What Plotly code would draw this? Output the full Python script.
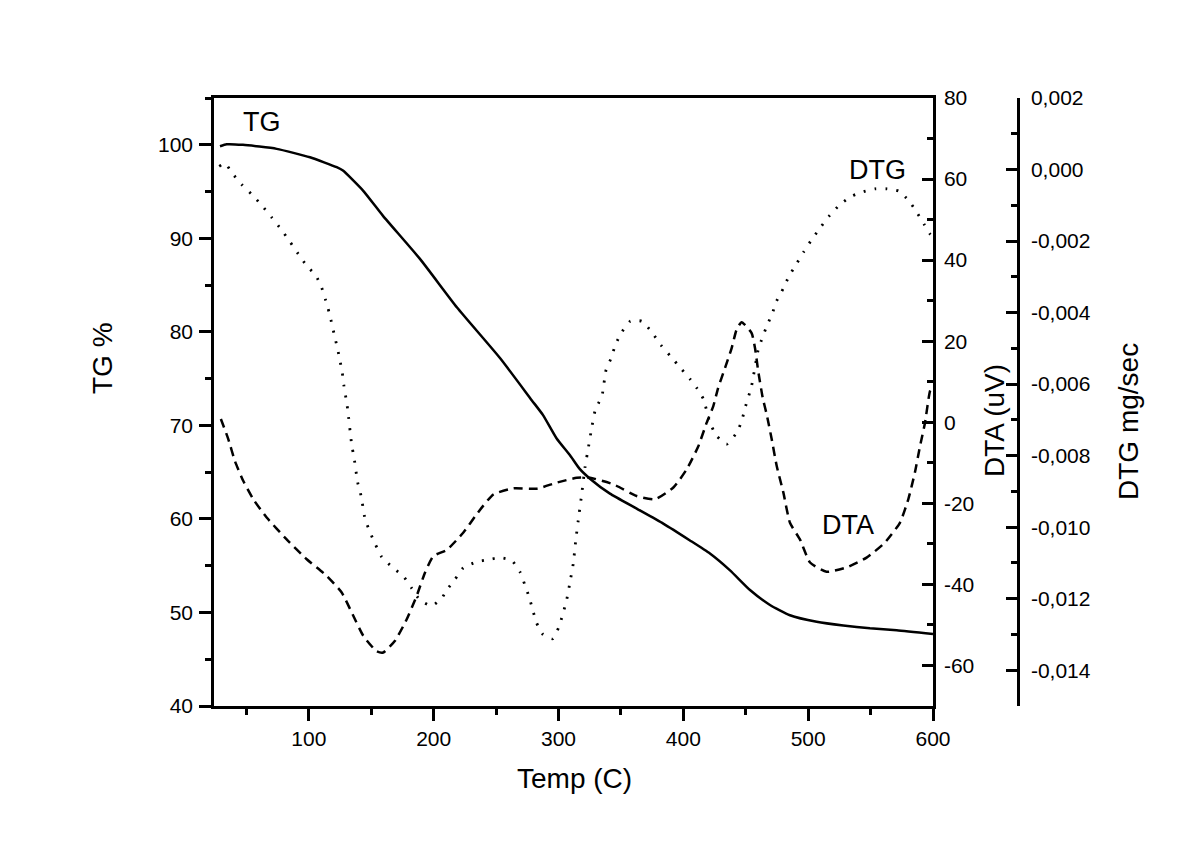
import plotly.graph_objects as go

# ---------------- data ----------------
temp_tg = [28.8, 34.2, 47.2, 74.2, 100.9, 122.3, 127.3, 143.4, 159.4, 189.0, 218.7,
           253.1, 278.5, 287.6, 298.5, 309.2, 316.6, 325.2, 341.2, 362.6, 383.9,
           405.3, 421.3, 437.4, 453.4, 469.4, 485.4, 506.8, 528.1, 549.5, 570.9, 600.0]
tg = [99.84, 100.05, 99.99, 99.56, 98.66, 97.6, 97.24, 95.1, 92.4, 87.8, 82.6,
      77.2, 72.7, 71.1, 68.6, 66.8, 65.4, 64.3, 62.7, 61.1, 59.5,
      57.7, 56.3, 54.5, 52.4, 50.8, 49.7, 49.0, 48.6, 48.3, 48.1, 47.7]

temp_dta = [29.5, 35.5, 40.8, 47.5, 55.5, 66.2, 82.2, 98.3, 114.3, 126.3, 134.3, 143.6,
            154.3, 159.6, 169.0, 178.4, 186.4, 193.0, 199.7, 210.4, 223.8, 234.4, 247.8,
            263.8, 282.5, 298.5, 314.6, 325.2, 343.9, 362.6, 377.3, 392.0, 402.7, 412.0,
            418.7, 424.0, 427.9, 433.4, 438.7, 442.7, 446.7, 454.7, 457.4, 460.0, 463.6,
            466.8, 470.8, 474.8, 480.1, 485.4, 493.4, 501.5, 514.7, 530.8, 546.8, 561.4,
            573.5, 580.2, 585.5, 589.6, 593.6, 597.6, 600.0]
dta = [0.8, -4.2, -9.6, -14.5, -19.0, -23.5, -28.9, -33.8, -37.9, -42.0, -46.9, -52.7,
       -56.5, -56.8, -53.9, -48.6, -42.8, -37.1, -33.0, -31.5, -27.2, -22.7, -17.8,
       -16.3, -16.4, -14.9, -13.7, -13.7, -15.3, -18.2, -19.0, -16.1, -11.6, -5.9,
       -0.1, 4.0, 8.5, 13.4, 18.3, 22.9, 24.7, 22.0, 18.3, 12.6, 6.0,
       1.9, -4.2, -10.8, -17.3, -24.8, -28.9, -34.6, -36.9, -35.8, -33.4, -29.7,
       -24.8, -19.0, -12.4, -5.9, -0.1, 7.7, 9.0]

temp_dtg = [28.2, 32.8, 39.0, 46.2, 55.0, 62.7, 70.2, 77.7, 84.9, 91.5, 98.3, 105.7,
            110.3, 113.5, 116.1, 118.5, 120.7, 123.1, 124.9, 126.8, 128.1, 129.7, 131.1,
            134.3, 136.4, 139.1, 141.8, 145.0, 149.0, 153.0, 158.3, 167.2, 175.7, 182.4,
            189.0, 198.4, 206.4, 210.4, 217.1, 223.7, 234.4, 243.7, 253.1, 262.5, 269.1,
            273.1, 276.6, 279.3, 282.5, 287.3, 295.3, 300.4, 303.3, 306.5, 309.7, 311.8,
            313.8, 315.8, 318.6, 321.2, 323.9, 326.6, 329.2, 332.5, 335.0, 338.1, 342.1,
            345.5, 350.1, 357.5, 366.6, 374.8, 382.0, 390.0, 398.0, 405.4, 410.8, 416.1,
            421.3, 426.7, 434.7, 442.7, 446.7, 449.4, 454.6, 459.9, 463.5, 467.2, 471.2,
            474.7, 480.0, 484.5, 490.6, 496.5, 502.6, 509.8, 517.3, 525.8, 535.1, 544.4,
            553.8, 563.1, 572.4, 580.4, 587.1, 592.9, 597.7, 600.0]
dtg = [0.00009, 0.00017, -0.00012, -0.00042, -0.00072, -0.00102, -0.00134, -0.00167,
       -0.00202, -0.00236, -0.00269, -0.00297,
       -0.00331, -0.00366, -0.00398, -0.00433, -0.00467, -0.00503, -0.00534, -0.00569,
       -0.00605, -0.00639, -0.00671,
       -0.00769, -0.0081, -0.00875, -0.00912, -0.00977, -0.01014, -0.01046, -0.01083,
       -0.01113, -0.01137, -0.01171,
       -0.01204, -0.0122, -0.01199, -0.01176, -0.01146, -0.01114, -0.01097, -0.01091,
       -0.01085, -0.01093, -0.01125,
       -0.01162, -0.01197, -0.01231, -0.01268, -0.01299, -0.01312, -0.01278, -0.01245,
       -0.01204, -0.01144, -0.01102,
       -0.01037, -0.00981, -0.00907, -0.00833, -0.00778, -0.00722, -0.00676, -0.0065,
       -0.0063, -0.0056, -0.00528,
       -0.00491, -0.00458, -0.00424, -0.00424, -0.00455, -0.00491, -0.00523, -0.00556,
       -0.00586, -0.00611, -0.00642,
       -0.00708, -0.00745, -0.00768, -0.00736, -0.00704, -0.00667, -0.00606, -0.00505,
       -0.00468, -0.00435, -0.00403,
       -0.00368, -0.00333, -0.00299, -0.00264, -0.0023, -0.00197, -0.00162, -0.00128,
       -0.00097, -0.00074, -0.00062,
       -0.00054, -0.00054, -0.0006, -0.00086, -0.0012, -0.00153, -0.00181, -0.0019]

x_ticks = [100, 200, 300, 400, 500, 600]
tg_ticks = [40, 50, 60, 70, 80, 90, 100]
dta_ticks = [-60, -40, -20, 0, 20, 40, 60, 80]
dta_labels = ["-60", "-40", "-20", "0", "20", "40", "60", "80"]
dtg_ticks = [-0.014, -0.012, -0.010, -0.008, -0.006, -0.004, -0.002, 0.000, 0.002]
dtg_labels = ["-0,014", "-0,012", "-0,010", "-0,008", "-0,006", "-0,004", "-0,002",
              "0,000", "0,002"]

# ---------------- figure ----------------
FONT = "Liberation Sans, Arial, sans-serif"
OFF = 8                       # default page body margin
W, H = 1198 - 2 * OFF, 847 - 2 * OFF
ML = 214 - OFF
MT = 98 - OFF
MB = H - (706 - OFF)
MR = W - (1018 - OFF)
PW = W - ML - MR
PH = H - MT - MB
x_dom_end = (933 - OFF - ML) / PW

def px_to_paper(px, py):
    return (px - OFF - ML) / PW, (H - MB - (py - OFF)) / PH

fig = go.Figure()
fig.add_trace(go.Scatter(x=temp_tg, y=tg, mode="lines", yaxis="y",
                         line=dict(color="black", width=2.5, shape="spline", smoothing=0.5),
                         showlegend=False))
fig.add_trace(go.Scatter(x=temp_dta, y=dta, mode="lines", yaxis="y2",
                         line=dict(color="black", width=2.5, dash="9px,6px",
                                   shape="spline", smoothing=0.5),
                         showlegend=False))
fig.add_trace(go.Scatter(x=temp_dtg, y=dtg, mode="lines", yaxis="y3",
                         line=dict(color="black", width=2.8, dash="2px,9px",
                                   shape="spline", smoothing=0.5),
                         showlegend=False))

axis_common = dict(showline=True, linecolor="black", linewidth=2.5, showgrid=False,
                   zeroline=False, tickcolor="black", tickwidth=2.5,
                   tickfont=dict(family=FONT, size=21, color="black"))

fig.update_layout(
    width=W, height=H,
    margin=dict(l=ML, r=MR, t=MT, b=MB, autoexpand=False),
    paper_bgcolor="white", plot_bgcolor="white",
    font=dict(family=FONT, color="black"),
    xaxis=dict(range=[24, 600], domain=[0, x_dom_end], tickvals=x_ticks,
               ticks="outside", ticklen=12, mirror=True, ticklabelstandoff=0,
               minor=dict(dtick=50, tick0=0, ticklen=6, ticks="outside",
                          tickcolor="black", tickwidth=2.5),
               anchor="y", **axis_common),
    yaxis=dict(range=[40, 105], tickvals=tg_ticks, ticks="outside", ticklen=12,
               ticklabelstandoff=2,
               minor=dict(dtick=5, tick0=0, ticklen=6, ticks="outside",
                          tickcolor="black", tickwidth=2.5),
               anchor="x", side="left", **axis_common),
    yaxis2=dict(range=[-70, 80], tickvals=dta_ticks, ticktext=dta_labels,
                ticks="inside", ticklen=11, overlaying="y", side="right", anchor="x",
                ticklabelstandoff=4,
                minor=dict(dtick=10, tick0=0, ticklen=6, ticks="inside",
                           tickcolor="black", tickwidth=2.5),
                **axis_common),
    yaxis3=dict(range=[-0.015, 0.002], tickvals=dtg_ticks, ticktext=dtg_labels,
                ticks="inside", ticklen=11, overlaying="y", side="right",
                anchor="free", position=1.0, ticklabelstandoff=7,
                minor=dict(dtick=0.001, tick0=0, ticklen=6, ticks="inside",
                           tickcolor="black", tickwidth=2.5),
                **axis_common),
)

# curve labels
fig.add_annotation(x=62.5, y=102.4, xref="x", yref="y", text="TG", showarrow=False,
                   font=dict(family=FONT, size=27, color="black"))
fig.add_annotation(x=555.5, y=97.35, xref="x", yref="y", text="DTG", showarrow=False,
                   font=dict(family=FONT, size=27, color="black"))
fig.add_annotation(x=532.3, y=59.3, xref="x", yref="y", text="DTA", showarrow=False,
                   font=dict(family=FONT, size=27, color="black"))

# axis titles
titles = [("TG %", 102, 358, -90), ("Temp (C)", 574, 778, 0),
          ("DTA (uV)", 994, 421, -90), ("DTG mg/sec", 1128, 422, -90)]
for txt, px, py, ang in titles:
    ax_, ay_ = px_to_paper(px, py)
    fig.add_annotation(x=ax_, y=ay_, xref="paper", yref="paper", text=txt,
                       showarrow=False, textangle=ang, xanchor="center", yanchor="middle",
                       font=dict(family=FONT, size=28, color="black"))

fig.write_html("out.html")
